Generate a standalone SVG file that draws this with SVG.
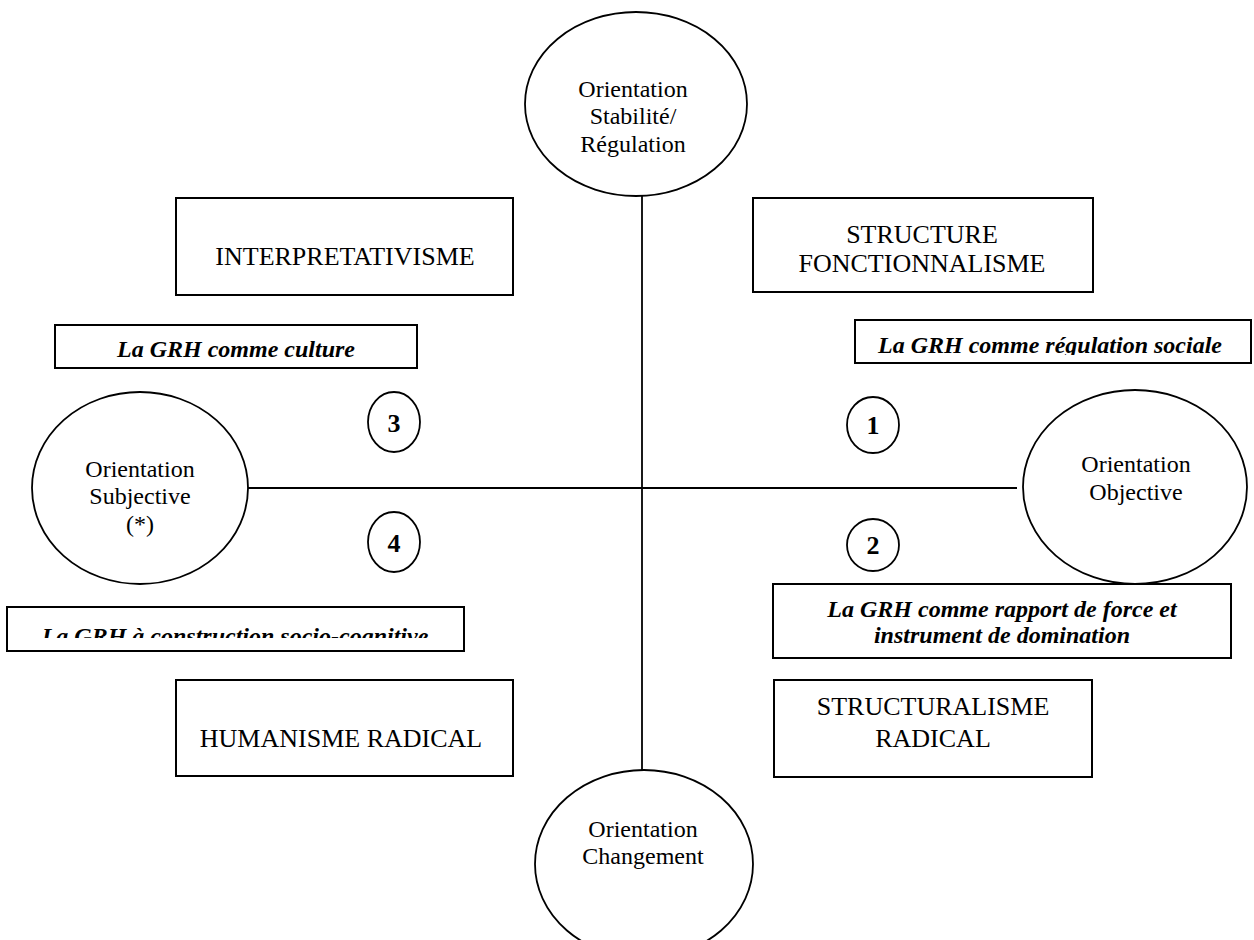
<svg xmlns="http://www.w3.org/2000/svg" width="1254" height="940" viewBox="0 0 1254 940">
<style>
.ell{fill:#fff;stroke:#000;stroke-width:1.8}
.box{fill:#fff;stroke:#000;stroke-width:2}
.conn{stroke:#000;stroke-width:1.8;fill:none}
.t{font-family:"Liberation Serif","Times New Roman",serif;fill:#000;text-anchor:middle}
.ct{font-size:24px}
.bt{font-size:26px}
.it{font-size:24px;font-weight:bold;font-style:italic}
.num{font-size:26px;font-weight:bold}
</style>
<defs>
<clipPath id="clipReg"><rect x="856" y="321" width="398" height="34"/></clipPath>
<clipPath id="clipSoc"><rect x="8" y="608" width="455" height="30"/></clipPath>
</defs>
<rect width="1254" height="940" fill="#fff"/>
<g id="connectors">
<line class="conn" x1="642" y1="196" x2="642" y2="790"/>
<line class="conn" x1="248" y1="488" x2="1017" y2="488"/>
</g>
<g id="stabilite">
<ellipse class="ell" cx="636" cy="104" rx="111" ry="92"/>
<text class="t ct" x="633" y="97">Orientation</text>
<text class="t ct" x="633" y="124">Stabilité/</text>
<text class="t ct" x="633" y="152">Régulation</text>
</g>
<g id="changement">
<ellipse class="ell" cx="644" cy="864" rx="109" ry="94"/>
<text class="t ct" x="643" y="837">Orientation</text>
<text class="t ct" x="643" y="864">Changement</text>
</g>
<g id="subjective">
<ellipse class="ell" cx="140" cy="488" rx="108" ry="96"/>
<text class="t ct" x="140" y="477">Orientation</text>
<text class="t ct" x="140" y="504">Subjective</text>
<text class="t ct" x="140" y="532">(*)</text>
</g>
<g id="objective">
<ellipse class="ell" cx="1135" cy="487" rx="112" ry="97"/>
<text class="t ct" x="1136" y="472">Orientation</text>
<text class="t ct" x="1136" y="500">Objective</text>
</g>
<g id="interpretativisme">
<rect class="box" x="176" y="198" width="337" height="97"/>
<text class="t bt" x="345" y="265">INTERPRETATIVISME</text>
</g>
<g id="structure-fonctionnalisme">
<rect class="box" x="753" y="198" width="340" height="94"/>
<text class="t bt" x="922" y="243">STRUCTURE</text>
<text class="t bt" x="922" y="272">FONCTIONNALISME</text>
</g>
<g id="humanisme-radical">
<rect class="box" x="176" y="680" width="337" height="96"/>
<text class="t bt" x="341" y="747">HUMANISME RADICAL</text>
</g>
<g id="structuralisme-radical">
<rect class="box" x="774" y="680" width="318" height="97"/>
<text class="t bt" x="933" y="715">STRUCTURALISME</text>
<text class="t bt" x="933" y="747">RADICAL</text>
</g>
<g id="grh-culture">
<rect class="box" x="55" y="325" width="362" height="43"/>
<text class="t it" x="236" y="357">La GRH comme culture</text>
</g>
<g id="grh-regulation">
<rect class="box" x="855" y="320" width="396" height="43"/>
<text class="t it" x="1050" y="353" clip-path="url(#clipReg)">La GRH comme régulation sociale</text>
</g>
<g id="grh-socio-cognitive">
<rect class="box" x="7" y="607" width="457" height="44"/>
<text class="t it" x="235" y="644" clip-path="url(#clipSoc)">La GRH à construction socio-cognitive</text>
</g>
<g id="grh-rapport">
<rect class="box" x="773" y="584" width="458" height="74"/>
<text class="t it" x="1002" y="617">La GRH comme rapport de force et</text>
<text class="t it" x="1002" y="643">instrument de domination</text>
</g>
<g id="n1">
<ellipse class="ell" cx="873" cy="425" rx="26" ry="28"/>
<text class="t num" x="873" y="434">1</text>
</g>
<g id="n2">
<ellipse class="ell" cx="873" cy="545" rx="26" ry="26"/>
<text class="t num" x="873" y="554">2</text>
</g>
<g id="n3">
<ellipse class="ell" cx="394" cy="422" rx="26" ry="30"/>
<text class="t num" x="394" y="432">3</text>
</g>
<g id="n4">
<ellipse class="ell" cx="394" cy="542" rx="26" ry="30"/>
<text class="t num" x="394" y="552">4</text>
</g>
</svg>
